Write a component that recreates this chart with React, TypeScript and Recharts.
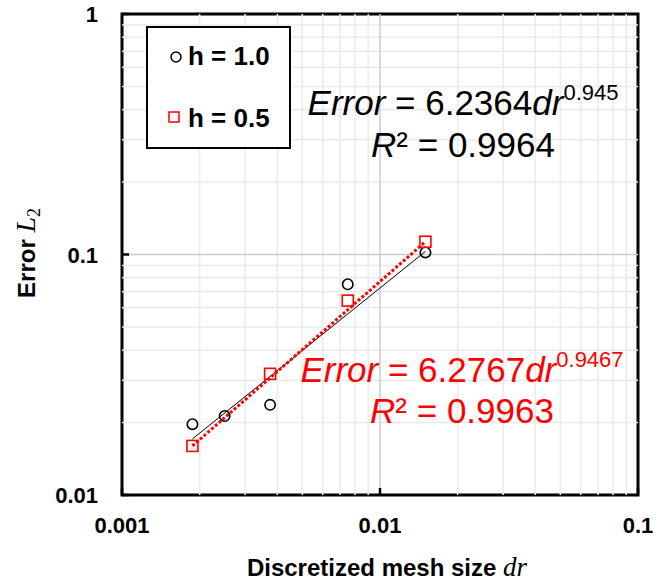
import React from 'react';
import { ScatterChart, Scatter, XAxis, YAxis, ReferenceLine, ReferenceArea } from 'recharts';

const drH10 = [0.001875, 0.0025, 0.00375, 0.0075, 0.015];
const errH10 = [0.0197, 0.0213, 0.0237, 0.0752, 0.102];
const drH05 = [0.001875, 0.00375, 0.0075, 0.015];
const errH05 = [0.016, 0.0319, 0.0643, 0.113];

// power-law trend line end points
const fitDr = [0.001875, 0.015];
const fitH10 = [0.0171, 0.103];
const fitH05 = [0.016, 0.113];

const xTicks = [0.001, 0.01, 0.1];
const yTicks = [0.01, 0.1, 1];
const xMinor = [0.002, 0.003, 0.004, 0.005, 0.006, 0.007, 0.008, 0.009, 0.02, 0.03, 0.04, 0.05, 0.06, 0.07, 0.08, 0.09];
const yMinor = [0.02, 0.03, 0.04, 0.05, 0.06, 0.07, 0.08, 0.09, 0.2, 0.3, 0.4, 0.5, 0.6, 0.7, 0.8, 0.9];

const toPoints = (xs: number[], ys: number[]) => xs.map((x, i) => ({ x, y: ys[i] }));

const sans = '"Liberation Sans", Arial, sans-serif';
const mathFont = '"Liberation Serif", "DejaVu Serif", serif';

const Circle = (p: any) => <circle cx={p.cx} cy={p.cy} r={5.2} fill="none" stroke="#000" strokeWidth={1.6} />;
const Square = (p: any) => (
  <rect x={p.cx - 5.5} y={p.cy - 5.5} width={11} height={11} fill="none" stroke="#ff0000" strokeWidth={1.6} />
);
const NoShape = () => <g />;

const XTick = (p: any) => (
  <g>
    <line x1={p.x} y1={p.y} x2={p.x} y2={p.y - 7} stroke="#000" strokeWidth={2.5} />
    <text x={p.x} y={p.y + 38} textAnchor="middle" fontFamily={sans} fontWeight="bold" fontSize={22} fill="#000">
      {p.payload.value}
    </text>
  </g>
);

const YTick = (p: any) => (
  <g>
    <line x1={p.x} y1={p.y} x2={p.x + 7} y2={p.y} stroke="#000" strokeWidth={2.5} />
    <text x={p.x - 24} y={p.y + 8} textAnchor="end" fontFamily={sans} fontWeight="bold" fontSize={22} fill="#000">
      {p.payload.value}
    </text>
  </g>
);

export default function App() {
  return (
    <div style={{ position: 'absolute', left: 0, top: 0, width: 670, height: 582, background: '#fff' }}>
      <ScatterChart width={670} height={582} margin={{ top: 14, right: 32, left: 0, bottom: 0 }}>
        <XAxis
          type="number"
          dataKey="x"
          scale="log"
          domain={[0.001, 0.1]}
          ticks={xTicks}
          allowDataOverflow
          axisLine={false}
          tickLine={false}
          tickSize={0}
          tickMargin={0}
          height={87}
          tick={<XTick />}
        />
        <YAxis
          type="number"
          dataKey="y"
          scale="log"
          domain={[0.01, 1]}
          ticks={yTicks}
          allowDataOverflow
          axisLine={false}
          tickLine={false}
          tickSize={0}
          tickMargin={0}
          width={122}
          tick={<YTick />}
        />
        {xMinor.map((v) => (
          <ReferenceLine key={'vx' + v} x={v} stroke="#ebebeb" strokeWidth={1.5} />
        ))}
        {yMinor.map((v) => (
          <ReferenceLine key={'hy' + v} y={v} stroke="#ebebeb" strokeWidth={1.5} />
        ))}
        <ReferenceLine x={0.01} stroke="#cccccc" strokeWidth={1.5} />
        <ReferenceLine y={0.1} stroke="#cccccc" strokeWidth={1.5} />
        <Scatter
          data={toPoints(fitDr, fitH10)}
          line={{ stroke: '#000', strokeWidth: 1 }}
          shape={NoShape}
          isAnimationActive={false}
        />
        <Scatter
          data={toPoints(fitDr, fitH05)}
          line={{ stroke: '#ff0000', strokeWidth: 3, strokeDasharray: '3 2' }}
          shape={NoShape}
          isAnimationActive={false}
        />
        <Scatter data={toPoints(drH10, errH10)} shape={Circle} isAnimationActive={false} />
        <Scatter data={toPoints(drH05, errH05)} shape={Square} isAnimationActive={false} />
        <ReferenceArea x1={0.001} x2={0.1} y1={0.01} y2={1} fill="none" stroke="#000" strokeWidth={3} ifOverflow="visible" />
      </ScatterChart>
      <svg width={670} height={582} style={{ position: 'absolute', left: 0, top: 0, pointerEvents: 'none' }}>
        {/* legend */}
        <rect x={147} y={27} width={143} height={121} fill="#fff" stroke="#000" strokeWidth={2} />
        <circle cx={176} cy={57} r={5} fill="none" stroke="#000" strokeWidth={1.5} />
        <text x={188} y={65} fontFamily={sans} fontWeight="bold" fontSize={26} fill="#000">h = 1.0</text>
        <rect x={169} y={112} width={10} height={10} fill="none" stroke="#ff0000" strokeWidth={1.5} />
        <text x={188} y={127} fontFamily={sans} fontWeight="bold" fontSize={26} fill="#000">h = 0.5</text>

        {/* fit equations */}
        <text x={463} y={115} textAnchor="middle" fontFamily={sans} fontSize={35} fill="#000">
          <tspan fontStyle="italic">Error</tspan> = 6.2364<tspan fontStyle="italic">dr</tspan>
          <tspan dy={-15} fontSize={22}>0.945</tspan>
        </text>
        <text x={463} y={157} textAnchor="middle" fontFamily={sans} fontSize={35} fill="#000">
          <tspan fontStyle="italic">R</tspan>² = 0.9964
        </text>
        <text x={462} y={382} textAnchor="middle" fontFamily={sans} fontSize={35} fill="#ff0000">
          <tspan fontStyle="italic">Error</tspan> = 6.2767<tspan fontStyle="italic">dr</tspan>
          <tspan dy={-15} fontSize={22}>0.9467</tspan>
        </text>
        <text x={462} y={423} textAnchor="middle" fontFamily={sans} fontSize={35} fill="#ff0000">
          <tspan fontStyle="italic">R</tspan>² = 0.9963
        </text>

        {/* axis titles */}
        <text x={387} y={576} textAnchor="middle" fontFamily={sans} fontWeight="bold" fontSize={24} fill="#000">
          Discretized mesh size <tspan fontFamily={mathFont} fontStyle="italic" fontWeight="normal" fontSize={27}>dr</tspan>
        </text>
        <text
          x={35}
          y={253}
          transform="rotate(-90 35 253)"
          textAnchor="middle"
          fontFamily={sans}
          fontWeight="bold"
          fontSize={24}
          fill="#000"
        >
          Error <tspan fontFamily={mathFont} fontStyle="italic" fontWeight="normal" fontSize={28}>L</tspan>
          <tspan fontFamily={mathFont} fontWeight="normal" fontSize={18} dy={5}>2</tspan>
        </text>
      </svg>
    </div>
  );
}
